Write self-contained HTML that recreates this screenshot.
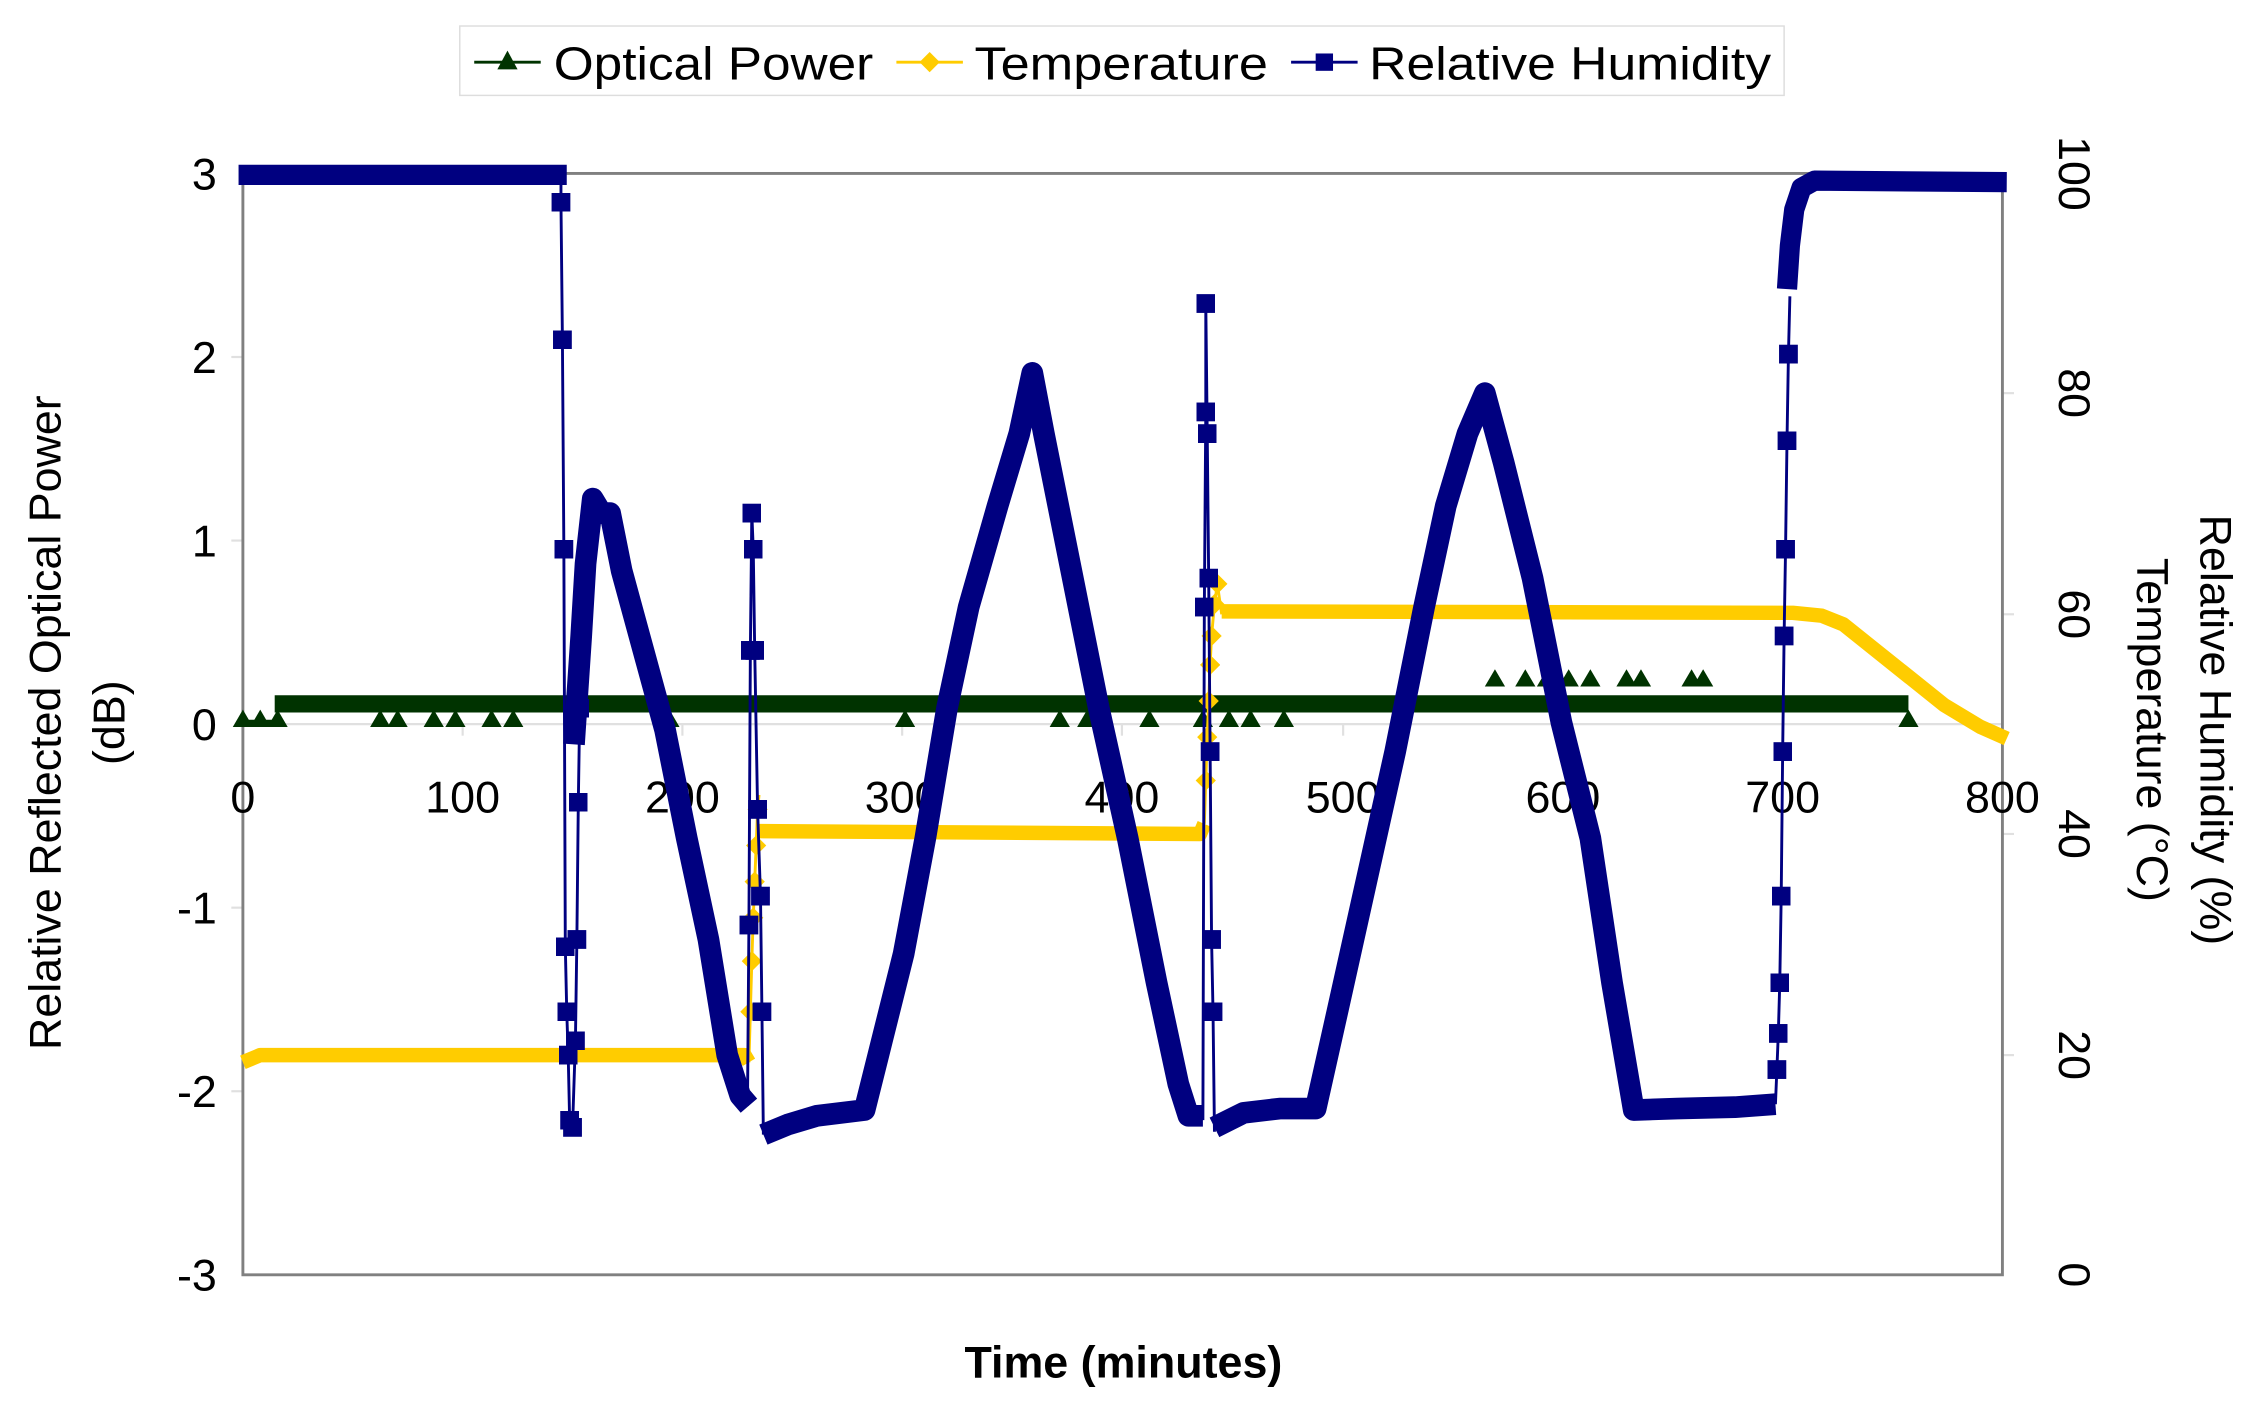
<!DOCTYPE html>
<html><head><meta charset="utf-8"><style>
html,body{margin:0;padding:0;background:#fff;}
svg{display:block;}
text{font-family:"Liberation Sans",Arial,sans-serif;fill:#000;}
</style></head><body>
<svg width="2267" height="1415" viewBox="0 0 1568 979" preserveAspectRatio="none" xmlns="http://www.w3.org/2000/svg">
<defs>
<marker id="sq" markerWidth="13" markerHeight="13" refX="6.5" refY="6.5" markerUnits="userSpaceOnUse"><rect x="0" y="0" width="13" height="13" fill="#000080"/></marker>
<marker id="dm" markerWidth="14" markerHeight="14" refX="7" refY="7" markerUnits="userSpaceOnUse"><path d="M7 0L14 7L7 14L0 7Z" fill="#FFCC00"/></marker>
</defs>
<!-- legend -->
<rect x="318" y="18" width="916" height="48" fill="#fff" stroke="#ddd"/>
<line x1="328" y1="43" x2="374" y2="43" stroke="#003300" stroke-width="2"/><path d="M351 35L358 48H344Z" fill="#003300"/>
<text x="383" y="55" font-size="32" textLength="221" lengthAdjust="spacingAndGlyphs">Optical Power</text>
<line x1="620" y1="43" x2="666" y2="43" stroke="#FFCC00" stroke-width="2"/><path d="M643 36L650 43L643 50L636 43Z" fill="#FFCC00"/>
<text x="674" y="55" font-size="32" textLength="203" lengthAdjust="spacingAndGlyphs">Temperature</text>
<line x1="893" y1="43" x2="939" y2="43" stroke="#000080" stroke-width="2"/><rect x="910" y="37" width="12" height="12" fill="#000080"/>
<text x="947" y="55" font-size="32" textLength="278" lengthAdjust="spacingAndGlyphs">Relative Humidity</text>
<!-- axes -->
<g stroke="#e0e0e0" stroke-width="1.5">
<line x1="160" y1="247" x2="168" y2="247"/><line x1="160" y1="374" x2="168" y2="374"/><line x1="160" y1="628" x2="168" y2="628"/><line x1="160" y1="755" x2="168" y2="755"/>
<line x1="1385" y1="272" x2="1393" y2="272"/><line x1="1385" y1="425" x2="1393" y2="425"/><line x1="1385" y1="577" x2="1393" y2="577"/><line x1="1385" y1="730" x2="1393" y2="730"/>
<line x1="168" y1="501" x2="1385" y2="501"/>
<line x1="320" y1="501" x2="320" y2="509"/><line x1="472" y1="501" x2="472" y2="509"/><line x1="624" y1="501" x2="624" y2="509"/><line x1="776" y1="501" x2="776" y2="509"/><line x1="929" y1="501" x2="929" y2="509"/><line x1="1081" y1="501" x2="1081" y2="509"/><line x1="1233" y1="501" x2="1233" y2="509"/>
</g>
<rect x="168" y="120" width="1217" height="762" fill="none" stroke="#808080" stroke-width="2"/>
<g font-size="31" text-anchor="end">
<text x="150" y="131">3</text><text x="150" y="258">2</text><text x="150" y="385">1</text><text x="150" y="512">0</text><text x="150" y="639">-1</text><text x="150" y="766">-2</text><text x="150" y="893">-3</text>
</g>
<g font-size="31" text-anchor="middle">
<text x="168" y="562">0</text><text x="320" y="562">100</text><text x="472" y="562">200</text><text x="624" y="562">300</text><text x="776" y="562">400</text><text x="929" y="562">500</text><text x="1081" y="562">600</text><text x="1233" y="562">700</text><text x="1385" y="562">800</text>
</g>
<g font-size="31" text-anchor="middle">
<text transform="translate(1424,120) rotate(90)">100</text>
<text transform="translate(1424,272) rotate(90)">80</text>
<text transform="translate(1424,425) rotate(90)">60</text>
<text transform="translate(1424,577) rotate(90)">40</text>
<text transform="translate(1424,730) rotate(90)">20</text>
<text transform="translate(1424,882) rotate(90)">0</text>
</g>
<text x="777" y="953" font-size="31" font-weight="bold" text-anchor="middle">Time (minutes)</text>
<text transform="translate(42,500) rotate(-90)" font-size="31" text-anchor="middle">Relative Reflected Optical Power</text>
<text transform="translate(86,500) rotate(-90)" font-size="31" text-anchor="middle">(dB)</text>
<text transform="translate(1522,505) rotate(90)" font-size="31" text-anchor="middle">Relative Humidity (%)</text>
<text transform="translate(1478,505) rotate(90)" font-size="31" text-anchor="middle">Temperature (°C)</text>
<!-- optical power -->
<g fill="#003300">
<line x1="168" y1="500" x2="190" y2="500" stroke="#003300" stroke-width="4"/>
<line x1="190" y1="487" x2="1320" y2="487" stroke="#003300" stroke-width="12"/>
<path d="M168 491l7 12h-14zM180 491l7 12h-14zM192 491l7 12h-14zM263 491l7 12h-14zM275 491l7 12h-14zM300 491l7 12h-14zM315 491l7 12h-14zM340 491l7 12h-14zM355 491l7 12h-14zM463 491l7 12h-14zM626 491l7 12h-14zM733 491l7 12h-14zM752 491l7 12h-14zM795 491l7 12h-14zM832 491l7 12h-14zM850 491l7 12h-14zM865 491l7 12h-14zM888 491l7 12h-14zM1320 491l7 12h-14z"/>
<path d="M1034 463l7 12h-14zM1055 463l7 12h-14zM1070 463l7 12h-14zM1085 463l7 12h-14zM1100 463l7 12h-14zM1125 463l7 12h-14zM1135 463l7 12h-14zM1170 463l7 12h-14zM1178 463l7 12h-14z"/>
</g>
<!-- temperature -->
<polyline fill="none" stroke="#FFCC00" stroke-width="10" stroke-linejoin="round" points="168,735 180,730 515,730 518,735"/>
<polyline fill="none" stroke="#FFCC00" stroke-width="2" marker-mid="url(#dm)" points="518,735 519,700 520,665 521,635 522,610 523,585 524,560 525,550"/>
<polyline fill="none" stroke="#FFCC00" stroke-width="10" stroke-linejoin="round" points="525,575 830,577 833,570"/>
<polyline fill="none" stroke="#FFCC00" stroke-width="2" marker-mid="url(#dm)" points="833,570 834,540 835,510 836,485 837,460 838,440 840,418 842,404 845,425"/>
<polyline fill="none" stroke="#FFCC00" stroke-width="10" stroke-linejoin="round" points="845,423 1240,424 1260,426 1275,432 1290,444 1320,468 1345,488 1370,503 1388,511"/>
<!-- humidity -->
<polyline fill="none" stroke="#000080" stroke-width="14" points="165,121 392,121"/>
<polyline fill="none" stroke="#000080" stroke-width="2" marker-mid="url(#sq)" points="388,121 388,140 389,235 390,380 391,655 392,700 393,730 394,775 396,780 398,720 399,650 400,555 401,490 402,455"/>
<polyline fill="none" stroke="#000080" stroke-width="15" stroke-linejoin="round" points="397,515 402,440 405,390 410,345 416,355 422,355 430,395 445,450 460,505 475,580 490,650 503,730 512,758 518,765"/>
<polyline fill="none" stroke="#000080" stroke-width="2" marker-mid="url(#sq)" points="517,765 518,640 519,450 520,355 521,380 522,450 524,560 526,620 527,700 528,785"/>
<polyline fill="none" stroke="#000080" stroke-width="15" stroke-linejoin="round" points="528,785 545,778 565,772 598,768 610,720 625,660 640,580 655,490 670,420 690,350 705,300 714,258 722,300 740,390 760,490 780,580 800,680 815,750 822,772 832,772"/>
<polyline fill="none" stroke="#000080" stroke-width="2" marker-mid="url(#sq)" points="832,775 833,420 834,285 834,210 835,300 836,400 837,520 838,650 839,700 840,783"/>
<polyline fill="none" stroke="#000080" stroke-width="15" stroke-linejoin="round" points="840,780 860,770 885,767 910,767 925,700 945,610 965,520 985,420 1000,350 1015,300 1027,272 1040,320 1060,400 1080,500 1100,580 1115,680 1130,768 1160,767 1200,766 1228,764"/>
<polyline fill="none" stroke="#000080" stroke-width="2" marker-mid="url(#sq)" points="1228,764 1229,740 1230,715 1231,680 1232,620 1233,520 1234,440 1235,380 1236,305 1237,245 1238,205"/>
<polyline fill="none" stroke="#000080" stroke-width="14" stroke-linejoin="round" points="1236,200 1238,170 1241,145 1246,130 1255,125 1388,126"/>
</svg>
</body></html>
